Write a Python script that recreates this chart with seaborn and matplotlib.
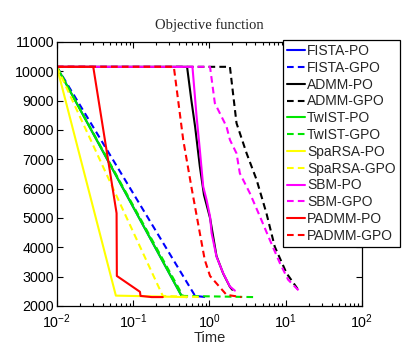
import numpy as np
import pandas as pd
import matplotlib
matplotlib.use("Agg")
import matplotlib.pyplot as plt
import seaborn as sns

# --- data (time in seconds, objective value) ---
fista_po_t = [0.01, 0.43, 0.50]
fista_po_f = [10150, 2350, 2300]
fista_gpo_t = [0.01, 0.65, 0.90]
fista_gpo_f = [10150, 2340, 2300]

admm_po_t = [0.01, 0.51, 0.58, 0.65, 0.75, 0.85, 1.02, 1.24, 1.52, 1.86, 2.0]
admm_po_f = [10150, 10150, 9020, 8110, 6750, 5780, 5000, 3700, 3100, 2650, 2550]
admm_gpo_t = [0.01, 1.86, 2.27, 3.08, 4.16, 5.6, 7.2, 10.3, 14.9]
admm_gpo_f = [10150, 10150, 8230, 7200, 6300, 5160, 4020, 3110, 2520]

twist_po_t = [0.01, 0.43, 0.50]
twist_po_f = [10150, 2350, 2300]
twist_gpo_t = [0.01, 0.45, 3.8]
twist_gpo_f = [10150, 2340, 2300]

sparsa_po_t = [0.01, 0.0594, 0.50]
sparsa_po_f = [10150, 2350, 2300]
sparsa_gpo_t = [0.01, 0.245, 0.80]
sparsa_gpo_f = [10150, 2340, 2300]

sbm_po_t = [0.01, 0.60, 0.68, 0.75, 0.83, 0.92, 1.02, 1.07, 1.24, 1.52, 1.86, 2.16]
sbm_po_f = [10150, 10150, 8450, 7320, 6070, 5610, 5050, 4480, 3680, 3110, 2660, 2520]
sbm_gpo_t = [0.01, 1.02, 1.18, 1.68, 1.86, 2.27, 2.51, 3.4, 4.6, 6.2, 8.4, 10.8, 14.9]
sbm_gpo_f = [10150, 10150, 8910, 8110, 7660, 7200, 6520, 5840, 5050, 4250, 3460, 2890, 2520]

padmm_po_t = [0.01, 0.030, 0.0607, 0.0612, 0.123, 0.125, 0.175, 0.245]
padmm_po_f = [10150, 10150, 5160, 3020, 2480, 2340, 2300, 2300]
padmm_gpo_t = [0.01, 0.342, 0.454, 0.58, 0.75, 0.87, 1.02, 1.68, 2.64]
padmm_gpo_f = [10150, 10150, 7660, 6070, 4480, 3570, 3020, 2375, 2300]

labels = ["FISTA-PO", "FISTA-GPO", "ADMM-PO", "ADMM-GPO", "TwIST-PO", "TwIST-GPO",
          "SpaRSA-PO", "SpaRSA-GPO", "SBM-PO", "SBM-GPO", "PADMM-PO", "PADMM-GPO"]
times = [fista_po_t, fista_gpo_t, admm_po_t, admm_gpo_t, twist_po_t, twist_gpo_t,
         sparsa_po_t, sparsa_gpo_t, sbm_po_t, sbm_gpo_t, padmm_po_t, padmm_gpo_t]
values = [fista_po_f, fista_gpo_f, admm_po_f, admm_gpo_f, twist_po_f, twist_gpo_f,
          sparsa_po_f, sparsa_gpo_f, sbm_po_f, sbm_gpo_f, padmm_po_f, padmm_gpo_f]
colors = ["#0000ff", "#0000ff", "#000000", "#000000", "#00e600", "#00e600",
          "#ffff00", "#ffff00", "#ff00ff", "#ff00ff", "#ff0000", "#ff0000"]

sns.set_style("ticks")
plt.rcParams["font.family"] = ["Liberation Sans", "DejaVu Sans"]
plt.rcParams["mathtext.fontset"] = "custom"
plt.rcParams["mathtext.rm"] = "Liberation Sans"
plt.rcParams["mathtext.it"] = "Liberation Sans:italic"

fig = plt.figure(figsize=(4.15, 3.52), dpi=100)
ax = fig.add_axes([0.137, 0.131, 0.735, 0.75])

for i, lab in enumerate(labels):
    ls = "-" if i % 2 == 0 else (0, (3.2, 2.0))
    sns.lineplot(x=times[i], y=values[i], ax=ax, color=colors[i], linestyle=ls,
                 linewidth=1.5, label=lab, sort=False, estimator=None)

ax.set_xscale("log")
ax.set_xlim(0.01, 100)
ax.set_ylim(2000, 11000)
ax.set_yticks(np.arange(2000, 11001, 1000))
ax.tick_params(which="both", direction="in", top=True, right=True,
               labelsize=10.3, colors="black")
ax.tick_params(axis="x", which="major", pad=5)
ax.tick_params(axis="y", which="major", pad=2)
ax.tick_params(which="major", length=4, width=0.8)
ax.tick_params(which="minor", length=2, width=0.8)
for sp in ax.spines.values():
    sp.set_linewidth(0.9)
    sp.set_color("black")

ax.set_title("Objective function", fontsize=10.5, family=["Liberation Serif"], pad=9)
ax.set_xlabel("Time", fontsize=10.5, labelpad=0)
ax.set_ylabel("")

leg = ax.legend(loc="upper left", bbox_to_anchor=(283 / 415, 1 - 40 / 352),
                bbox_transform=fig.transFigure, fontsize=10, frameon=True,
                fancybox=False, framealpha=1, edgecolor="black",
                handlelength=1.3, handletextpad=0.12, labelspacing=0.2,
                borderpad=0.3, borderaxespad=0)
leg.get_frame().set_linewidth(0.9)

fig.savefig("out.png", dpi=100)
